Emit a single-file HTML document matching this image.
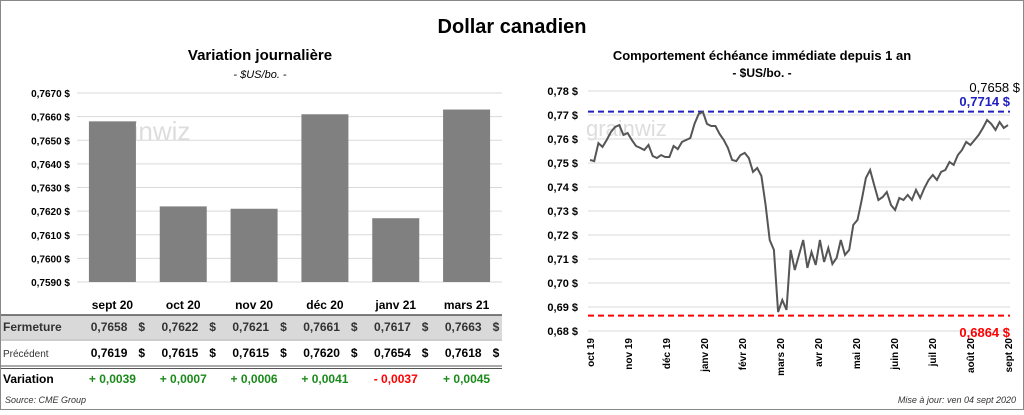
<!DOCTYPE html>
<html><head><meta charset="utf-8"><style>
body{margin:0;width:1024px;height:410px;background:#fff;font-family:"Liberation Sans","DejaVu Sans",sans-serif;overflow:hidden}
svg text{font-family:"Liberation Sans","DejaVu Sans",sans-serif}
</style></head><body>
<svg id="s" width="1024" height="410">
<rect x="0.5" y="0.5" width="1023" height="409" fill="#fff" stroke="#888"/>
<text x="512" y="33" text-anchor="middle" font-size="20" font-weight="bold">Dollar canadien</text>
<text x="260" y="60" text-anchor="middle" font-size="15" font-weight="bold">Variation  journalière</text>
<text x="260" y="78" text-anchor="middle" font-size="11" font-style="italic">- $US/bo. -</text>
<text x="762" y="60" text-anchor="middle" font-size="13" font-weight="bold">Comportement échéance immédiate depuis 1 an</text>
<text x="762" y="77" text-anchor="middle" font-size="12" font-weight="bold">- $US/bo. -</text>
<g id="left"></g>
<g id="table"></g>
<g id="right"></g>
<text x="5" y="403" font-size="9" font-style="italic" fill="#333">Source: CME Group</text>
<text x="1016" y="403" text-anchor="end" font-size="9" font-style="italic" fill="#333">Mise à jour: ven 04 sept 2020</text>
</svg>
<script>
const barCats=["sept 20","oct 20","nov 20","déc 20","janv 21","mars 21"];
const closeVals=[0.7658,0.7622,0.7621,0.7661,0.7617,0.7663];
const prevVals=[0.7619,0.7615,0.7615,0.7620,0.7654,0.7618];
const barTicks=[0.7590,0.7600,0.7610,0.7620,0.7630,0.7640,0.7650,0.7660,0.7670];
const lineVals=[.7513,.7508,.7583,.7567,.7596,.7629,.7650,.7658,.7617,.7625,.7596,.7571,.7563,.7554,.7575,.7529,.7521,.7533,.7525,.7525,.7571,.7558,.7588,.7596,.7604,.7663,.7704,.7713,.7663,.7654,.7654,.7621,.7596,.7563,.7513,.7508,.7533,.7542,.7521,.7463,.7479,.7446,.7325,.7179,.7138,.6879,.6929,.6888,.7138,.7054,.7117,.7179,.7063,.7129,.7075,.7179,.7088,.7146,.7079,.7104,.7179,.7117,.7138,.7242,.7263,.7346,.7438,.7471,.7408,.7346,.7358,.7379,.7325,.7304,.7354,.7346,.7367,.7346,.7388,.7354,.7396,.7429,.7450,.7429,.7463,.7471,.7504,.7492,.7533,.7554,.7588,.7575,.7596,.7617,.7646,.7679,.7663,.7638,.7671,.7646,.7658];
const lineTicks=[0.68,0.69,0.70,0.71,0.72,0.73,0.74,0.75,0.76,0.77,0.78];
const monthLabels=["oct 19","nov 19","déc 19","janv 20","févr 20","mars 20","avr 20","mai 20","juin 20","juil 20","août 20","sept 20"];
const maxLine=0.7714, minLine=0.6864, lastLine=0.7658;
const NS="http://www.w3.org/2000/svg";
function mk(p,t,a,txt){const e=document.createElementNS(NS,t);for(const k in a)e.setAttribute(k,a[k]);if(txt!==undefined)e.textContent=txt;p.appendChild(e);return e;}
const fmt=(v,d)=>v.toFixed(d).replace('.',',');
// left chart
const L=document.getElementById('left');
const ly=v=>93+(0.7670-v)/0.0080*189, lx0=77, lw=425, slot=lw/barCats.length;
barTicks.forEach(t=>{const g=mk(L,'line',{x1:lx0,x2:lx0+lw,y1:ly(t),y2:ly(t),stroke:'#d9d9d9'});
const tx=mk(L,'text',{x:70,y:ly(t)+4,'text-anchor':'end','font-size':10,'font-weight':'bold'},fmt(t,4)+' $');});
mk(L,'text',{x:95,y:140,'font-size':26,fill:'#ddd'},'grainwiz');
barCats.forEach((c,i)=>{const cx=lx0+slot*(i+0.5);const b=mk(L,'rect',{x:cx-23.5,y:ly(closeVals[i]),width:47,height:ly(0.7590)-ly(closeVals[i]),fill:'#808080'});
const t=mk(L,'text',{x:cx,y:309,'text-anchor':'middle','font-size':12,'font-weight':'bold'},c);});
// table
const T=document.getElementById('table');
mk(T,'rect',{x:1,y:315,width:501,height:24,fill:'#d9d9d9'});
mk(T,'line',{x1:1,x2:502,y1:315,y2:315,stroke:'#555','stroke-width':1.5});
mk(T,'line',{x1:1,x2:502,y1:340,y2:340,stroke:'#999'});
mk(T,'line',{x1:1,x2:502,y1:366,y2:366,stroke:'#555'});
mk(T,'line',{x1:1,x2:502,y1:368.5,y2:368.5,stroke:'#555'});
const r1=mk(T,'text',{x:3,y:331,'font-size':12,'font-weight':'bold',fill:'#333'},'Fermeture');
const r2=mk(T,'text',{x:3,y:357,'font-size':10,fill:'#333'},'Précédent');
const r3=mk(T,'text',{x:3,y:383,'font-size':12,'font-weight':'bold'},'Variation');
barCats.forEach((c,i)=>{const cx=lx0+slot*(i+0.5);
const a=mk(T,'text',{x:cx+15,y:331,'text-anchor':'end','font-size':12,'font-weight':'bold',fill:'#333'},fmt(closeVals[i],4));
mk(T,'text',{x:cx+26,y:331,'font-size':12,'font-weight':'bold',fill:'#333'},'$');
const b=mk(T,'text',{x:cx+15,y:357,'text-anchor':'end','font-size':12,'font-weight':'bold'},fmt(prevVals[i],4));
mk(T,'text',{x:cx+26,y:357,'font-size':12,'font-weight':'bold'},'$');
const d=closeVals[i]-prevVals[i];
const v=mk(T,'text',{x:cx,y:383,'text-anchor':'middle','font-size':12,'font-weight':'bold',fill:d>=0?'#1a8a1a':'#ff0000'},(d>=0?'+ ':'- ')+fmt(Math.abs(d),4));});
// right chart
const R=document.getElementById('right');
const x0=590,x1=1008,ry=v=>331-(v-0.68)/0.10*240;
lineTicks.forEach(t=>{const g=mk(R,'line',{x1:x0-2,x2:1010,y1:ry(t),y2:ry(t),stroke:'#d9d9d9'});
const tx=mk(R,'text',{x:578,y:ry(t)+4,'text-anchor':'end','font-size':11,'font-weight':'bold'},fmt(t,2)+' $');});
mk(R,'text',{x:586,y:136,'font-size':22,fill:'#ddd'},'grainwiz');
monthLabels.forEach((m,i)=>{const x=x0+(x1-x0)*i/(monthLabels.length-1);const t=mk(R,'text',{x:x+4,y:338,'text-anchor':'end','font-size':10,'font-weight':'bold',transform:`rotate(-90 ${x+4} 338)`},m);});
const mx=mk(R,'line',{x1:x0-2,x2:1010,y1:ry(maxLine),y2:ry(maxLine),stroke:'#2020c0','stroke-width':2,'stroke-dasharray':'6,4'});
const mn=mk(R,'line',{x1:x0-2,x2:1010,y1:ry(minLine),y2:ry(minLine),stroke:'#ff0000','stroke-width':2,'stroke-dasharray':'6,4'});
const pts=lineVals.map((v,i)=>(x0+(x1-x0)*i/(lineVals.length-1)).toFixed(1)+','+ry(v).toFixed(1)).join(' ');
const pl=mk(R,'polyline',{points:pts,fill:'none',stroke:'#555','stroke-width':2});
const l1=mk(R,'text',{x:1020,y:92,'text-anchor':'end','font-size':13},fmt(lastLine,4)+' $');
const l2=mk(R,'text',{x:1010,y:106,'text-anchor':'end','font-size':13,'font-weight':'bold',fill:'#2020c0'},fmt(maxLine,4)+' $');
const l3=mk(R,'text',{x:1010,y:337,'text-anchor':'end','font-size':13,'font-weight':'bold',fill:'#ff0000'},fmt(minLine,4)+' $');
</script>
</body></html>
